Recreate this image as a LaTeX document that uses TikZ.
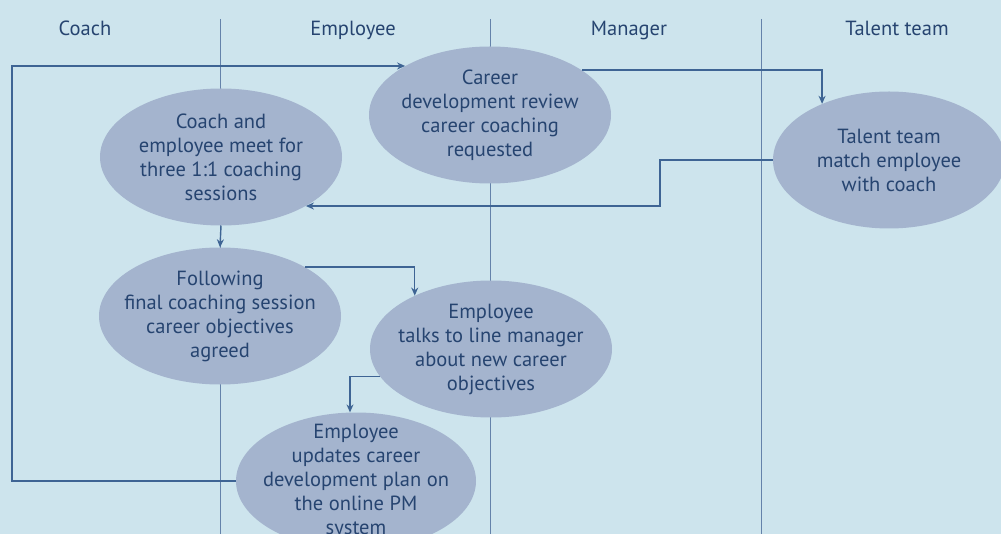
\documentclass[tikz,border=0pt]{standalone}
\usepackage{fontspec}
\setmainfont{PT Sans}
\usetikzlibrary{shapes.geometric,arrows.meta,backgrounds}
\definecolor{lanebg}{RGB}{205,228,237}
\definecolor{bubblefill}{RGB}{164,180,206}
\definecolor{inktext}{RGB}{38,68,112}
\definecolor{laneline}{RGB}{100,130,170}
\definecolor{flowline}{RGB}{62,100,148}

\begin{document}
\begin{tikzpicture}[x=1pt,y=-1pt,
font=\fontsize{20.5}{24}\selectfont,
bubble/.style={ellipse, fill=bubblefill, text=inktext, align=center,
    inner xsep=-30pt, inner ysep=-15pt, minimum width=242pt, minimum height=137pt},
head/.style={text=inktext, anchor=base},
lane/.style={draw=laneline, line width=0.9pt},
flow/.style={draw=flowline, line width=1.4pt, -{Stealth[length=8pt,width=7pt]}}]
\useasboundingbox (0,0) rectangle (1001,534);
\node[head] (hcoach) at (85,36) {Coach};
\node[head] (hemployee) at (353,36) {Employee};
\node[head] (hmanager) at (629,36) {Manager};
\node[head] (htalent) at (897,36) {Talent team};
\node[bubble] (review) at (490,115) {Career\\development review\\career coaching\\requested};
\node[bubble] (coaching) at (221,157) {Coach and\\employee meet for\\three 1:1 coaching\\sessions};
\node[bubble, minimum width=232pt] (match) at (889,160) {Talent team\\match employee\\with coach};
\node[bubble] (agreed) at (220,316) {Following\\final coaching session\\career objectives\\agreed};
\node[bubble] (talks) at (491,349) {Employee\\talks to line manager\\about new career\\objectives};
\node[bubble, minimum width=240pt] (updates) at (356,481) {Employee\\updates career\\development plan on\\the online PM\\system};
\coordinate (lft) at (12,0);
\coordinate (bend) at (660,180);
\draw[flow] (updates.west) -- (lft |- updates.west) -- (lft |- review.150) -- (review.150);
\draw[flow] (review.26) -| (match.140);
\draw[flow] (match.west) -| (bend) |- (coaching.-30);
\draw[flow] (coaching.south) -- (agreed.north);
\draw[flow] (agreed.30) -| (talks.145);
\draw[flow] (talks.194) -| (updates.95);
\begin{scope}[on background layer]
\fill[lanebg] (0,0) rectangle (1001,534);
\draw[lane] (220,19) -- (220,534);
\draw[lane] (490,19) -- (490,534);
\draw[lane] (761,19) -- (761,534);
\end{scope}
\end{tikzpicture}
\end{document}
